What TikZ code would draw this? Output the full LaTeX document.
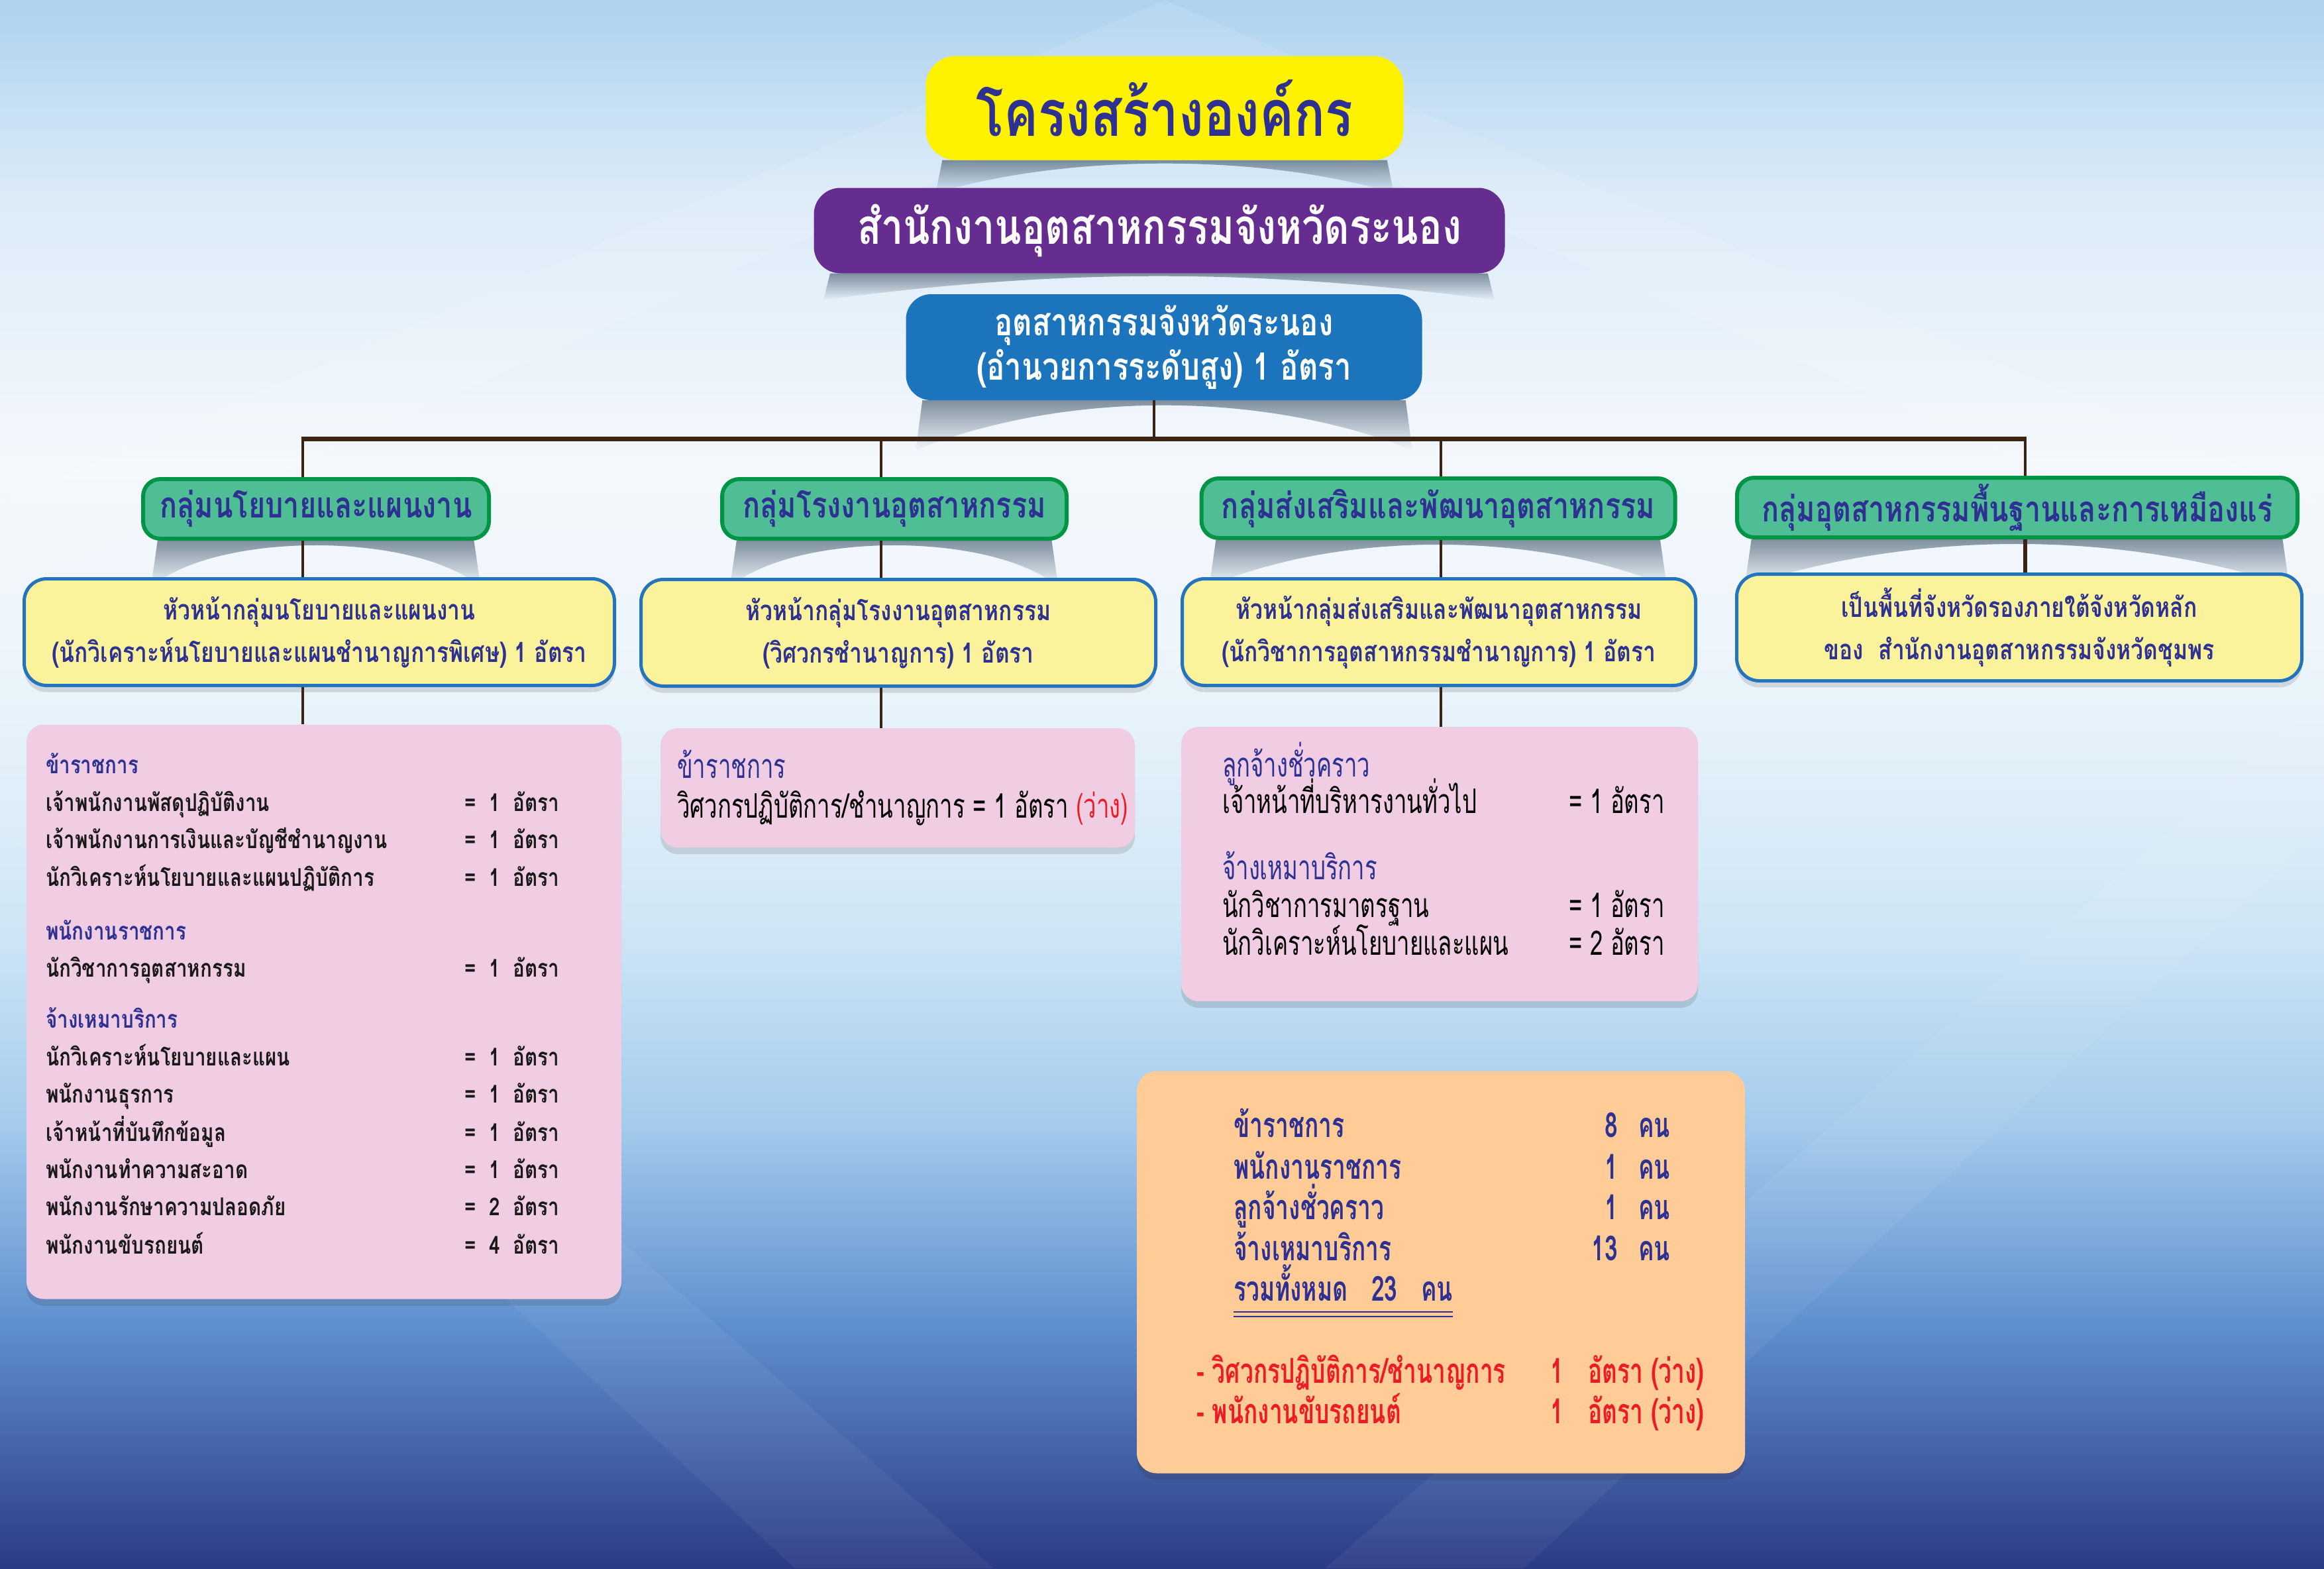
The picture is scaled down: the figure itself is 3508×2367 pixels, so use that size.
\documentclass[tikz,border=0pt]{standalone}
\usepackage{fontspec}
\setmainfont[Script=Thai,FakeStretch=0.8]{Loma}
\newfontfamily\thainarrow[Script=Thai,FakeStretch=0.68]{Loma}
\usetikzlibrary{shadows,fadings,backgrounds,calc}
\definecolor{navytext}{HTML}{2E3192}
\definecolor{titleyellow}{HTML}{FFF200}
\definecolor{officepurple}{HTML}{662D91}
\definecolor{chiefblue}{HTML}{1C75BC}
\definecolor{groupgreen}{HTML}{4FBE94}
\definecolor{groupedge}{HTML}{009444}
\definecolor{headyellow}{HTML}{FBF39B}
\definecolor{headedge}{HTML}{2373BF}
\definecolor{staffpink}{HTML}{F0CDE2}
\definecolor{sumorange}{HTML}{FFCB97}
\definecolor{linkbrown}{HTML}{3C2415}
\definecolor{vacantred}{HTML}{ED1C24}
\definecolor{curlgray}{HTML}{5A6E80}
\definecolor{skyA}{HTML}{AED2EF}
\definecolor{skyB}{HTML}{DCEBF8}
\definecolor{skyC}{HTML}{F4F8FC}
\definecolor{skyD}{HTML}{EDF5FB}
\definecolor{skyE}{HTML}{CFE6F6}
\definecolor{skyF}{HTML}{A4CBEC}
\definecolor{skyG}{HTML}{5F8FCF}
\definecolor{skyH}{HTML}{2B3A85}
\tikzfading[name=fade down, top color=transparent!0, bottom color=transparent!100]
\begin{document}
\begin{tikzpicture}
[x=1pt,y=-1pt,
  titlebox/.style={shape=rectangle,rounded corners=45pt,inner sep=0pt,align=center,fill=titleyellow,text=navytext,%
    font=\bfseries\fontsize{97}{100}\selectfont},%
  officebox/.style={shape=rectangle,rounded corners=40pt,inner sep=0pt,align=center,fill=officepurple,text=white,%
    font=\bfseries\fontsize{74}{80}\selectfont},%
  chiefbox/.style={shape=rectangle,rounded corners=38pt,inner sep=0pt,align=center,fill=chiefblue,text=white,%
    font=\bfseries\fontsize{57}{67}\selectfont},%
  groupbox/.style={shape=rectangle,rounded corners=26pt,inner sep=0pt,align=center,fill=groupgreen,%
    draw=groupedge,line width=6pt,text=navytext,minimum height=90pt,font=\bfseries\fontsize{54}{60}\selectfont},%
  headbox/.style={shape=rectangle,rounded corners=34pt,inner sep=0pt,align=center,fill=headyellow,%
    draw=headedge,line width=5pt,text=navytext,minimum height=161pt,font=\bfseries\fontsize{42}{64}\selectfont,%
    drop shadow={shadow xshift=0pt,shadow yshift=-10pt,opacity=0.15,fill=black!80}},%
  staffbox/.style={shape=rectangle,rounded corners=26pt,inner sep=0pt,fill=staffpink,%
    drop shadow={shadow xshift=0pt,shadow yshift=-10pt,opacity=0.15,fill=black!80}},%
  sumbox/.style={shape=rectangle,rounded corners=30pt,inner sep=0pt,fill=sumorange,%
    drop shadow={shadow xshift=0pt,shadow yshift=-10pt,opacity=0.18,fill=black!80}},%
  rowhead/.style={anchor=west,inner sep=0pt,text height=0.5em,text depth=0pt,yshift=-10pt,text=navytext,%
    font=\bfseries\fontsize{37}{40}\selectfont},%
  rowtext/.style={anchor=west,inner sep=0pt,text height=0.5em,text depth=0pt,yshift=-10pt,text=black!90,%
    font=\bfseries\fontsize{37}{40}\selectfont},%
  narrowhead/.style={anchor=west,inner sep=0pt,text height=0.5em,text depth=0pt,yshift=-12pt,text=navytext,%
    font=\thainarrow\fontsize{51}{54}\selectfont},%
  narrowtext/.style={anchor=west,inner sep=0pt,text height=0.5em,text depth=0pt,yshift=-12pt,text=black,%
    font=\thainarrow\fontsize{51}{54}\selectfont},%
  sumtext/.style={anchor=west,inner sep=0pt,text height=0.5em,text depth=0pt,yshift=-12pt,text=navytext,%
    font=\thainarrow\bfseries\fontsize{52}{54}\selectfont},%
  linkline/.style={-,draw=linkbrown,line width=3.5pt},%
  curlshadow/.style={fill=curlgray,fill opacity=0.9,path fading=fade down}]
\useasboundingbox (0,0) rectangle (3508,2367);
%% top boxes
\node (title) at (1758,163) [titlebox,minimum width=721pt,minimum height=157pt] {โครงสร้างองค์กร};
\node (office) at (1750,348) [officebox,minimum width=1043pt,minimum height=129pt] {สำนักงานอุตสาหกรรมจังหวัดระนอง};
\node (chief) at (1757,524) [chiefbox,minimum width=779pt,minimum height=160pt]
  {อุตสาหกรรมจังหวัดระนอง\\(อำนวยการระดับสูง)\ 1\ อัตรา};
%% groups
\node (grp1) at (477,768) [groupbox,minimum width=522pt] {กลุ่มนโยบายและแผนงาน};
\node (grp2) at (1350,768) [groupbox,minimum width=520pt] {กลุ่มโรงงานอุตสาหกรรม};
\node (grp3) at (2171,767) [groupbox,minimum width=715pt] {กลุ่มส่งเสริมและพัฒนาอุตสาหกรรม};
\node (grp4) at (3045,766) [groupbox,minimum width=846pt] {กลุ่มอุตสาหกรรมพื้นฐานและการเหมืองแร่};
%% heads of groups
\node (head1) at (482,954) [headbox,minimum width=891pt]
  {หัวหน้ากลุ่มนโยบายและแผนงาน\\(นักวิเคราะห์นโยบายและแผนชำนาญการพิเศษ)\ 1\ อัตรา};
\node (head2) at (1356,955) [headbox,minimum width=777pt]
  {หัวหน้ากลุ่มโรงงานอุตสาหกรรม\\(วิศวกรชำนาญการ)\ 1\ อัตรา};
\node (head3) at (2172,954) [headbox,minimum width=775pt]
  {หัวหน้ากลุ่มส่งเสริมและพัฒนาอุตสาหกรรม\\(นักวิชาการอุตสาหกรรมชำนาญการ)\ 1\ อัตรา};
\node (head4) at (3048,947) [headbox,minimum width=853pt]
  {เป็นพื้นที่จังหวัดรองภายใต้จังหวัดหลัก\\ของ\ \ สำนักงานอุตสาหกรรมจังหวัดชุมพร};
%% staff boxes
\node (staff1) at (489,1527) [staffbox,minimum width=898pt,minimum height=867pt] {};
\node (staff2) at (1355,1189) [staffbox,minimum width=716pt,minimum height=180pt] {};
\node (staff3) at (2173,1304) [staffbox,minimum width=780pt,minimum height=414pt] {};
\node (sum) at (2175,1920) [sumbox,minimum width=918pt,minimum height=607pt] {};
%% staff of group 1
\foreach \hname/\y/\t in {s1h1/1155/ข้าราชการ, s1h2/1406/พนักงานราชการ, s1h3/1539/จ้างเหมาบริการ}
{
  \node (\hname) at (69,\y) [rowhead] {\t};
}
\foreach \rname/\y/\t/\n in {1/1212/เจ้าพนักงานพัสดุปฏิบัติงาน/1, 2/1268/เจ้าพนักงานการเงินและบัญชีชำนาญงาน/1,
  3/1325/นักวิเคราะห์นโยบายและแผนปฏิบัติการ/1, 4/1462/นักวิชาการอุตสาหกรรม/1,
  5/1596/นักวิเคราะห์นโยบายและแผน/1, 6/1652/พนักงานธุรการ/1, 7/1710/เจ้าหน้าที่บันทึกข้อมูล/1,
  8/1766/พนักงานทำความสะอาด/1, 9/1822/พนักงานรักษาความปลอดภัย/2, 10/1880/พนักงานขับรถยนต์/4}
{
  \node (s1r\rname) at (69,\y) [rowtext] {\t};
  \node (s1v\rname) at (701,\y) [rowtext] {=\ \ \n\ \ อัตรา};
}
%% staff of group 2
\node (s2h1) at (1022,1160) [narrowhead] {ข้าราชการ};
\node (s2r1) at (1022,1220) [narrowtext] {วิศวกรปฏิบัติการ/ชำนาญการ = 1 อัตรา {\color{vacantred}(ว่าง)}};
%% staff of group 3
\foreach \hname/\y/\t in {s3h1/1158/ลูกจ้างชั่วคราว, s3h2/1313/จ้างเหมาบริการ}
{
  \node (\hname) at (1845,\y) [narrowhead] {\t};
}
\foreach \rname/\y/\t/\n in {1/1213/เจ้าหน้าที่บริหารงานทั่วไป/1, 2/1370/นักวิชาการมาตรฐาน/1,
  3/1427/นักวิเคราะห์นโยบายและแผน/2}
{
  \node (s3r\rname) at (1845,\y) [narrowtext] {\t};
  \node (s3v\rname) at (2368,\y) [narrowtext] {= \n\ อัตรา};
}
%% totals
\foreach \rname/\y/\t/\n in {1/1702/ข้าราชการ/8, 2/1765/พนักงานราชการ/1, 3/1826/ลูกจ้างชั่วคราว/1,
  4/1888/จ้างเหมาบริการ/13}
{
  \node (sumr\rname) at (1862,\y) [sumtext] {\t};
  \node (sumn\rname) at (2442,\y) [sumtext,anchor=east] {\n};
  \node (sumk\rname) at (2473,\y) [sumtext] {คน};
}
\node (total) at (1862,1949) [sumtext] {รวมทั้งหมด\ \ \ 23\ \ \ คน};
\draw[navytext,line width=2pt] ($(total.base west)+(0,16)$) -- ($(total.base east)+(0,16)$);
\draw[navytext,line width=2pt] ($(total.base west)+(0,23)$) -- ($(total.base east)+(0,23)$);
\foreach \rname/\y/\t in {1/2073/{- วิศวกรปฏิบัติการ/ชำนาญการ}, 2/2134/- พนักงานขับรถยนต์}
{
  \node (vac\rname) at (1806,\y) [sumtext,text=vacantred] {\t};
  \node (vacn\rname) at (2340,\y) [sumtext,text=vacantred] {1};
  \node (vack\rname) at (2397,\y) [sumtext,text=vacantred] {อัตรา (ว่าง)};
}
%% edges or lines
\coordinate (trunk) at (1742,662);
\draw[linkline] (chief.south -| trunk) -- (trunk);
\foreach \i/\cx in {1/457, 2/1330, 3/2175, 4/3057}
{
  \coordinate (col\i) at (\cx,662);
  \draw[linkline] (col\i) -- (col\i |- grp\i.north);
}
\draw[linkline,line width=7pt] ($(col1)+(-1.75,0)$) -- ($(col4)+(1.75,0)$);
\foreach \i in {1,2,3}
{
  \draw[linkline] (col\i |- grp\i.south) -- (col\i |- head\i.north);
  \draw[linkline] (col\i |- head\i.south) -- (col\i |- staff\i.north);
}
\draw[linkline,line width=6pt] (col4 |- grp4.south) -- (col4 |- head4.north);
%% background and shadows
\begin{scope}[on background layer]
  \shade[top color=skyA,bottom color=skyB] (0,0) rectangle (3508,301);
  \shade[top color=skyB,bottom color=skyC] (0,300) rectangle (3508,701);
  \shade[top color=skyC,bottom color=skyD] (0,700) rectangle (3508,1001);
  \shade[top color=skyD,bottom color=skyE] (0,1000) rectangle (3508,1401);
  \shade[top color=skyE,bottom color=skyF] (0,1400) rectangle (3508,1701);
  \shade[top color=skyF,bottom color=skyG] (0,1700) rectangle (3508,2001);
  \shade[top color=skyG,bottom color=skyH] (0,2000) rectangle (3508,2367);
  \fill[white,opacity=0.1] (1758,0) -- (0,760) -- (0,900) -- (1758,120) -- (3508,900) -- (3508,760) -- cycle;
  \fill[white,opacity=0.05] (0,1250) -- (1200,2367) -- (1500,2367) -- (0,1050) -- cycle;
  \fill[white,opacity=0.05] (3508,1250) -- (2300,2367) -- (2000,2367) -- (3508,1050) -- cycle;
  \foreach \n/\d in {title/50, office/40, chief/75, grp1/70, grp2/70, grp3/70, grp4/70}
  {
    \fill[curlshadow] ($(\n.south west)+(25,0)$) -- ($(\n.south west)+(15,\d)$)
      .. controls ($(\n.south)+(-150,-0.2*\d)$) and ($(\n.south)+(150,-0.2*\d)$) .. ($(\n.south east)+(-15,\d)$)
      -- ($(\n.south east)+(-25,0)$) -- cycle;
  }
\end{scope}
\end{tikzpicture}
\end{document}
